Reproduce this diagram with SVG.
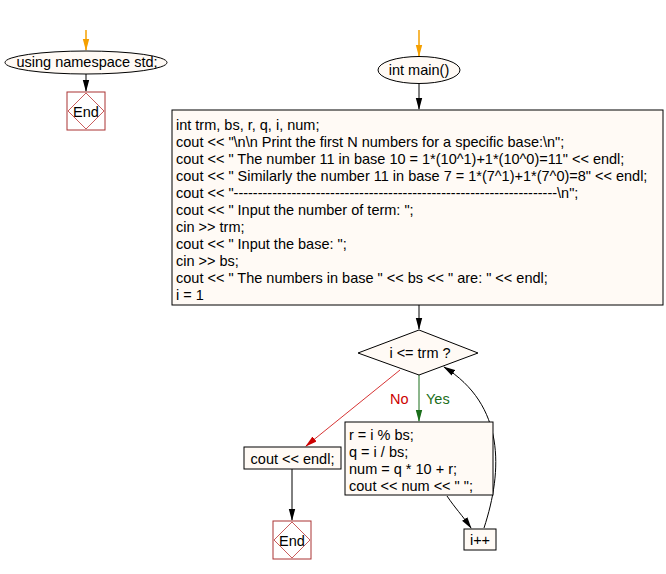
<svg xmlns="http://www.w3.org/2000/svg" width="666" height="574" viewBox="0 0 666 574">
<style>
text{font-family:"Liberation Sans",Arial,sans-serif;font-size:14.5px;fill:#000}
.fill{fill:#fffaf5;stroke:#000;stroke-width:1}
.endbox{fill:#fff;stroke:#a33;stroke-width:1}
.enddia{fill:none;stroke:#b33;stroke-width:0.8}
.c{text-anchor:middle}
.ln{fill:none;stroke:#000;stroke-width:1}
</style>
<defs>
<marker id="ab" markerWidth="12" markerHeight="8" refX="11" refY="4" orient="auto" markerUnits="userSpaceOnUse" viewBox="0 0 12 8"><path d="M0,0.8 L12,4 L0,7.2 z" fill="#000"/></marker>
<marker id="ao" markerWidth="12" markerHeight="8" refX="11" refY="4" orient="auto" markerUnits="userSpaceOnUse" viewBox="0 0 12 8"><path d="M0,0.8 L12,4 L0,7.2 z" fill="#f5a000"/></marker>
<marker id="ag" markerWidth="12" markerHeight="8" refX="11" refY="4" orient="auto" markerUnits="userSpaceOnUse" viewBox="0 0 12 8"><path d="M0,0.8 L12,4 L0,7.2 z" fill="#1a6e1a"/></marker>
<marker id="ar" markerWidth="12" markerHeight="8" refX="11" refY="4" orient="auto" markerUnits="userSpaceOnUse" viewBox="0 0 12 8"><path d="M0,0.8 L12,4 L0,7.2 z" fill="#cc0000"/></marker>
</defs>

<g id="connectors">
<line x1="86" y1="30" x2="86" y2="50" stroke="#f5a000" stroke-width="1.5" marker-end="url(#ao)"/>
<line x1="86" y1="74" x2="86" y2="91" class="ln" marker-end="url(#ab)"/>
<line x1="419" y1="30" x2="419" y2="56" stroke="#f5a000" stroke-width="1.5" marker-end="url(#ao)"/>
<line x1="419" y1="84" x2="419" y2="109" class="ln" marker-end="url(#ab)"/>
<line x1="419" y1="305" x2="419" y2="329" class="ln" marker-end="url(#ab)"/>
<line x1="419" y1="375" x2="419" y2="421" stroke="#1a6e1a" stroke-width="1" marker-end="url(#ag)"/>
<line x1="400" y1="370" x2="306" y2="446" stroke="#cc0000" stroke-width="0.8" marker-end="url(#ar)"/>
<line x1="292" y1="469" x2="292" y2="520" class="ln" marker-end="url(#ab)"/>
<path d="M447,496 C455,508 462,515 471,528" class="ln" marker-end="url(#ab)"/>
<path d="M484,528 C503,470 505,405 444,367" class="ln" marker-end="url(#ab)"/>
</g>

<g id="start-std">
<ellipse cx="86" cy="62.5" rx="81" ry="11.5" class="fill"/>
<text x="87" y="67" class="c">using namespace std;</text>
</g>

<g id="end-std">
<rect x="67" y="92" width="38" height="38" class="endbox"/>
<path d="M86,93 L104,111 L86,129 L68,111 z" class="enddia"/>
<text x="86" y="117" class="c">End</text>
</g>

<g id="main">
<ellipse cx="419" cy="70" rx="41" ry="13.5" class="fill"/>
<text x="419" y="75" class="c">int main()</text>
</g>

<g id="init">
<rect x="172" y="110" width="491" height="195" class="fill"/>
<text x="176" y="129.5">int trm, bs, r, q, i, num;</text>
<text x="176" y="146.5">cout &lt;&lt; "\n\n Print the first N numbers for a specific base:\n";</text>
<text x="176" y="163.5">cout &lt;&lt; " The number 11 in base 10 = 1*(10^1)+1*(10^0)=11" &lt;&lt; endl;</text>
<text x="176" y="180.5">cout &lt;&lt; " Similarly the number 11 in base 7 = 1*(7^1)+1*(7^0)=8" &lt;&lt; endl;</text>
<text x="176" y="197.5">cout &lt;&lt; "-------------------------------------------------------------------\n";</text>
<text x="176" y="214.5">cout &lt;&lt; " Input the number of term: ";</text>
<text x="176" y="231.5">cin &gt;&gt; trm;</text>
<text x="176" y="248.5">cout &lt;&lt; " Input the base: ";</text>
<text x="176" y="265.5">cin &gt;&gt; bs;</text>
<text x="176" y="282.5">cout &lt;&lt; " The numbers in base " &lt;&lt; bs &lt;&lt; " are: " &lt;&lt; endl;</text>
<text x="176" y="299.5">i = 1</text>
</g>

<g id="cond">
<path d="M419,330 L478,353 L419,375 L358,353 z" class="fill"/>
<text x="420" y="358" class="c">i &lt;= trm ?</text>
<text x="390" y="404" style="fill:#cc0000">No</text>
<text x="426" y="404" style="fill:#1a6e1a">Yes</text>
</g>

<g id="body">
<rect x="345" y="422" width="148" height="73" class="fill"/>
<text x="349" y="440">r = i % bs;</text>
<text x="349" y="457">q = i / bs;</text>
<text x="349" y="474">num = q * 10 + r;</text>
<text x="349" y="491">cout &lt;&lt; num &lt;&lt; "  ";</text>
</g>

<g id="incr">
<rect x="464" y="529" width="32" height="21" class="fill"/>
<text x="480" y="545" class="c">i++</text>
</g>

<g id="endl">
<rect x="244" y="447" width="97" height="22" class="fill"/>
<text x="292.5" y="463.5" class="c">cout &lt;&lt; endl;</text>
</g>

<g id="end-main">
<rect x="273" y="521" width="38" height="38" class="endbox"/>
<path d="M292,522 L310,540 L292,558 L274,540 z" class="enddia"/>
<text x="292" y="546" class="c">End</text>
</g>
</svg>
